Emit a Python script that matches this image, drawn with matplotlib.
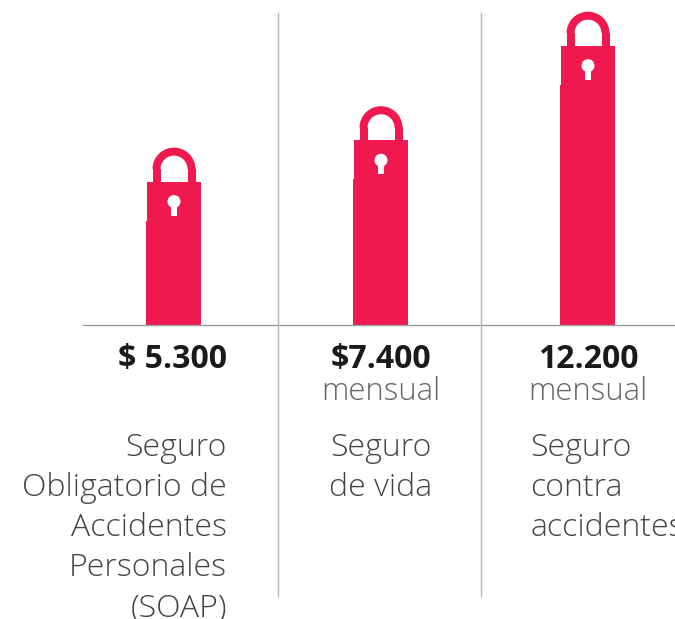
#!/usr/bin/env python3
import matplotlib
matplotlib.use('Agg')
import matplotlib.pyplot as plt
from matplotlib.patches import Rectangle, Circle, Wedge

plt.rcParams['font.family'] = ['Open Sans', 'DejaVu Sans']

RED = '#f0194f'
GREY = '#b8b8b8'
DARK = '#1a1a1a'
SOFT = '#444444'

# Values as shown in the picture
values = [5300, 7400, 12200]
value_labels = ['$ 5.300', '$7.400', '12.200']
sub_labels = ['', 'mensual', 'mensual']
names = [
    ['Seguro', 'Obligatorio de', 'Accidentes', 'Personales', '(SOAP)'],
    ['Seguro', 'de vida'],
    ['Seguro', 'contra', 'accidentes'],
]

W, H = 675, 619
fig = plt.figure(figsize=(W / 100, H / 100), dpi=100)
ax = fig.add_axes([0, 0, 1, 1])
ax.set_xlim(0, W)
ax.set_ylim(H, 0)
ax.axis('off')

base_y = 325
px_per_unit = 0.0197
bar_x = [146, 353, 560]
bar_w = 55

# baseline and separators
ax.plot([83, W], [base_y, base_y], color='#9a9a9a', lw=1.0)
for sx in [278, 481]:
    ax.plot([sx, sx], [13, 596], color=GREY, lw=1.0)

for i, v in enumerate(values):
    h = v * px_per_unit
    top = base_y - h
    x = bar_x[i]
    cx = x + bar_w / 2 + 0.5
    ax.add_patch(Rectangle((x, top), bar_w, h, color=RED, lw=0))

    # lock body sits on top of the bar
    body_top = top - 39
    ax.add_patch(Rectangle((x + 1, body_top), bar_w - 1, 40, color=RED, lw=0))

    # shackle
    arc_y = body_top - 12.5
    ax.add_patch(Wedge((cx, arc_y), 21.5, 180, 360, width=8, color=RED, lw=0))
    ax.add_patch(Rectangle((cx - 21.5, arc_y - 0.5), 8, 14, color=RED, lw=0))
    ax.add_patch(Rectangle((cx + 13.5, arc_y - 0.5), 8, 14, color=RED, lw=0))

    # keyhole
    ax.add_patch(Circle((cx, top - 19), 6.5, color='white', lw=0))
    ax.add_patch(Rectangle((cx - 2.75, top - 19), 5.5, 14, color='white', lw=0))

# value labels
val_x = [227, 381, 588]
val_ha = ['right', 'center', 'center']
for i in range(3):
    ax.text(val_x[i], 368, value_labels[i], ha=val_ha[i], va='baseline',
            fontsize=23, fontweight='bold', color=DARK)
    if sub_labels[i]:
        ax.text(val_x[i], 400, sub_labels[i], ha='center', va='baseline',
                fontsize=22.3, fontweight='light', color='#666666')

# names
name_x = [227, 381, 530]
name_ha = ['right', 'center', 'left']
line_h = 40
for i, lines in enumerate(names):
    for j, s in enumerate(lines):
        ax.text(name_x[i], 456.5 + j * line_h, s, ha=name_ha[i], va='baseline',
                fontsize=23, fontweight='light', color=SOFT)

fig.savefig('out.png', dpi=100)
